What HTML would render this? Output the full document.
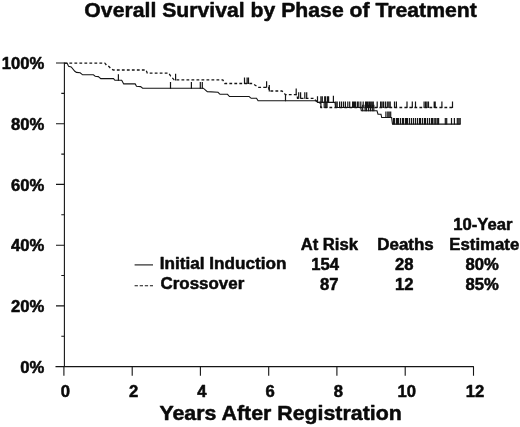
<!DOCTYPE html>
<html lang="en"><head><meta charset="utf-8"><title>Overall Survival by Phase of Treatment</title>
<style>html,body{margin:0;padding:0;background:#fff}svg{display:block}</style></head>
<body>
<svg width="520" height="427" viewBox="0 0 520 427">
<rect width="520" height="427" fill="#fff"/>
<g fill="none" stroke="#151515" stroke-width="1.1">
<path d="M64.4,62.5V366.6M55.5,366.6H473.8"/>
<path d="M61.3,336.2H64.4M56,305.9H64.4M61.3,275.5H64.4M56,245.2H64.4M61.3,214.8H64.4M56,184.4H64.4M61.3,154.1H64.4M56,123.7H64.4M61.3,93.4H64.4M56,63.0H64.4"/>
<path d="M63.9,366.6V375.7M132.2,366.6V375.7M200.4,366.6V375.7M268.7,366.6V375.7M336.9,366.6V375.7M405.2,366.6V375.7M473.5,366.6V375.7"/>
<path d="M64.4,63.2 L67.2,63.2 L68.6,66.4 L71.2,67.0 L74.8,71.3 L76.5,72.4 L80.2,72.8 L82.6,74.8 L93.4,74.8 L95.2,76.2 L98.3,76.6 L100.8,78.6 L113.5,78.6 L114.9,80.3 L121.7,80.3 L123.7,83.9 L135.2,83.9 L136.5,86.2 L140.6,86.6 L142.6,88.2 L203.3,88.2 L207.3,91.6 L218.0,92.3 L220.0,94.3 L227.5,94.3 L229.5,96.5 L249.1,96.5 L251.2,98.3 L256.5,98.3 L258.1,100.8 L316.5,100.8 L318.0,102.4 L335.0,102.4 L335.5,107.5 L360.8,107.5 L361.3,110.8 L377.0,110.8 L378.0,114.2 L381.0,114.2 L381.7,117.5 L391.6,117.5 L392.5,124.1 L460.4,124.1"/>
<path d="M64.4,63.2 L104.8,63.2 L106.5,65.2 L109.0,66.6 L111.0,68.8 L113.5,70.0 L146.0,70.0 L147.3,73.2 L168.8,73.2 L170.5,75.9 L174.2,79.9 L222.8,79.9 L224.8,83.5 L252.5,83.5 L258.6,87.3 L268.5,87.3 L269.5,91.0 L282.0,91.0 L285.5,94.7 L297.0,94.7 L297.5,98.3 L314.0,98.3 L317.0,102.3 L320.0,102.3 L321.0,107.5 L452.8,107.5" stroke-dasharray="2.8 2.2" stroke-width="1.3"/>
<path d="M118.4,80.8v-6.6 M170.5,88.7v-6.6 M191.4,88.7v-6.6 M200.3,88.7v-6.6 M202.3,88.7v-6.6 M285.5,101.3v-6.6 M317.5,102.8v-6.6 M320.9,102.8v-6.6 M322.3,102.8v-6.6 M324.7,102.8v-6.6 M325.7,102.8v-6.6 M327.6,102.8v-6.6 M328.6,102.8v-6.6 M362.7,111.3v-6.6 M365.1,111.3v-6.6 M366.5,111.3v-6.6 M368.5,111.3v-6.6 M370.4,111.3v-6.6 M372.3,111.3v-6.6 M373.8,111.3v-6.6 M385.9,118.0v-6.6 M387.8,118.0v-6.6 M389.2,118.0v-6.6 M390.7,118.0v-6.6 M393.5,124.6v-6.6 M394.5,124.6v-6.6 M396.5,124.6v-6.6 M397.5,124.6v-6.6 M398.5,124.6v-6.6 M400.5,124.6v-6.6 M402.5,124.6v-6.6 M403.5,124.6v-6.6 M405.5,124.6v-6.6 M406.5,124.6v-6.6 M407.5,124.6v-6.6 M409.5,124.6v-6.6 M411.5,124.6v-6.6 M413.5,124.6v-6.6 M415.5,124.6v-6.6 M417.5,124.6v-6.6 M419.5,124.6v-6.6 M420.5,124.6v-6.6 M422.5,124.6v-6.6 M424.5,124.6v-6.6 M425.5,124.6v-6.6 M427.5,124.6v-6.6 M429.5,124.6v-6.6 M431.5,124.6v-6.6 M432.5,124.6v-6.6 M434.2,124.6v-6.6 M435.7,124.6v-6.6 M437.3,124.6v-6.6 M438.6,124.6v-6.6 M445.3,124.6v-6.6 M446.7,124.6v-6.6 M451.5,124.6v-6.6 M454.4,124.6v-6.6 M457.3,124.6v-6.6 M458.8,124.6v-6.6 M460.2,124.6v-6.6" stroke-width="1.2"/>
<path d="M333.4,102.8v-7.0" stroke-width="1.2"/>
<path d="M175.6,80.4v-6.6 M244.5,84.0v-6.6 M247.1,84.0v-6.6 M248.5,84.0v-6.6 M266.6,87.8v-6.6 M269.3,91.5v-6.6 M296.2,95.2v-6.6 M298.7,98.8v-6.6 M300.6,98.8v-6.6 M304.8,98.8v-6.6 M306.7,98.8v-6.6 M320.9,108.0v-6.6 M324.2,108.0v-6.6 M325.7,108.0v-6.6 M327.0,108.0v-6.6 M335.8,108.0v-6.6 M337.2,108.0v-6.6 M339.6,108.0v-6.6 M341.5,108.0v-6.6 M343.5,108.0v-6.6 M345.4,108.0v-6.6 M347.8,108.0v-6.6 M349.7,108.0v-6.6 M352.6,108.0v-6.6 M353.6,108.0v-6.6 M354.6,108.0v-6.6 M355.5,108.0v-6.6 M357.4,108.0v-6.6 M358.8,108.0v-6.6 M360.8,108.0v-6.6 M363.2,108.0v-6.6 M365.6,108.0v-6.6 M366.8,108.0v-6.6 M368.0,108.0v-6.6 M369.4,108.0v-6.6 M370.7,108.0v-6.6 M372.0,108.0v-6.6 M373.3,108.0v-6.6 M377.2,108.0v-6.6 M380.6,108.0v-6.6 M382.0,108.0v-6.6 M383.5,108.0v-6.6 M385.4,108.0v-6.6 M387.3,108.0v-6.6 M388.8,108.0v-6.6 M390.2,108.0v-6.6 M394.5,108.0v-6.6 M396.4,108.0v-6.6 M407.0,108.0v-6.6 M412.3,108.0v-6.6 M415.5,108.0v-6.6 M424.1,108.0v-6.6 M425.6,108.0v-6.6 M427.0,108.0v-6.6 M428.5,108.0v-6.6 M434.2,108.0v-6.6 M435.2,108.0v-6.6 M441.9,108.0v-6.6 M452.5,108.0v-6.6" stroke-width="1.2"/>
<path d="M134.6,264.9H153"/>
<path d="M134.6,285.7H153" stroke-dasharray="3.3 1.8"/>
</g>
<g font-family="&quot;Liberation Sans&quot;, Arial, Helvetica, sans-serif" font-weight="bold" fill="#0a0a0a" stroke="#0a0a0a" stroke-width="0.5" stroke-linejoin="round">
<text transform="translate(280.6,17.2) scale(1.02,1)" font-size="20.8" text-anchor="middle">Overall Survival by Phase of Treatment</text>
<text transform="translate(280.6,419.6) scale(1.036,1)" font-size="20.6" text-anchor="middle">Years After Registration</text>
<text transform="translate(44.3,372.7) scale(1.04,1)" font-size="16" text-anchor="end">0%</text>
<text transform="translate(44.3,312.0) scale(1.04,1)" font-size="16" text-anchor="end">20%</text>
<text transform="translate(44.3,251.3) scale(1.04,1)" font-size="16" text-anchor="end">40%</text>
<text transform="translate(44.3,190.5) scale(1.04,1)" font-size="16" text-anchor="end">60%</text>
<text transform="translate(44.3,129.8) scale(1.04,1)" font-size="16" text-anchor="end">80%</text>
<text transform="translate(44.3,69.1) scale(1.04,1)" font-size="16" text-anchor="end">100%</text>
<text transform="translate(65.4,397.1) scale(1.04,1)" font-size="16" text-anchor="middle">0</text>
<text transform="translate(133.7,397.1) scale(1.04,1)" font-size="16" text-anchor="middle">2</text>
<text transform="translate(201.9,397.1) scale(1.04,1)" font-size="16" text-anchor="middle">4</text>
<text transform="translate(270.2,397.1) scale(1.04,1)" font-size="16" text-anchor="middle">6</text>
<text transform="translate(338.4,397.1) scale(1.04,1)" font-size="16" text-anchor="middle">8</text>
<text transform="translate(406.8,397.1) scale(1.04,1)" font-size="16" text-anchor="middle">10</text>
<text transform="translate(475.1,397.1) scale(1.04,1)" font-size="16" text-anchor="middle">12</text>
<text transform="translate(159.8,269.1) scale(1.072,1)" font-size="16" text-anchor="start">Initial Induction</text>
<text transform="translate(160.5,289.1) scale(1.06,1)" font-size="16" text-anchor="start">Crossover</text>
<text transform="translate(329.3,249.8) scale(1.04,1)" font-size="16" text-anchor="middle">At Risk</text>
<text transform="translate(339.0,269.8) scale(1.04,1)" font-size="16" text-anchor="end">154</text>
<text transform="translate(338.6,289.8) scale(1.04,1)" font-size="16" text-anchor="end">87</text>
<text transform="translate(405.5,249.8) scale(1.06,1)" font-size="16" text-anchor="middle">Deaths</text>
<text transform="translate(404.2,269.8) scale(1.04,1)" font-size="16" text-anchor="middle">28</text>
<text transform="translate(404.2,289.8) scale(1.04,1)" font-size="16" text-anchor="middle">12</text>
<text transform="translate(482.8,229.9) scale(1.04,1)" font-size="16" text-anchor="middle">10-Year</text>
<text transform="translate(484.3,249.8) scale(1.05,1)" font-size="16" text-anchor="middle">Estimate</text>
<text transform="translate(482.2,269.8) scale(1.04,1)" font-size="16" text-anchor="middle">80%</text>
<text transform="translate(482.2,289.8) scale(1.04,1)" font-size="16" text-anchor="middle">85%</text>
</g>
</svg>
</body></html>
